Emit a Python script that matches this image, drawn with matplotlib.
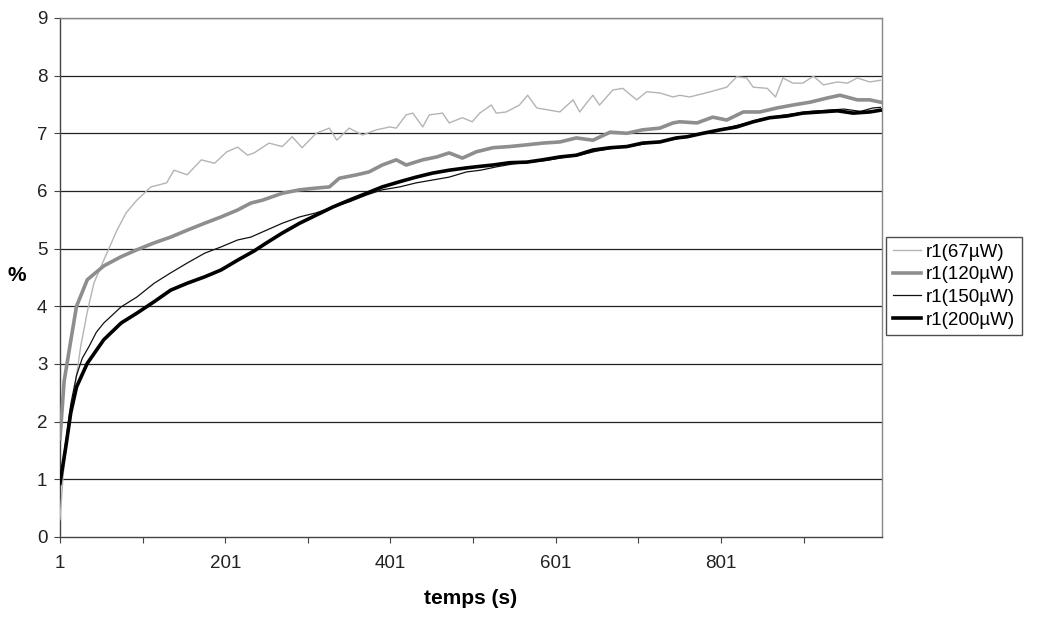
import matplotlib
matplotlib.use("Agg")
import matplotlib.pyplot as plt

plt.rcParams["font.family"] = ["Liberation Sans", "DejaVu Sans"]

# r1(67µW)
t67 = [1, 5, 10, 18, 26, 34, 42, 54, 70, 81,
       94, 111, 130, 139, 155, 172, 188, 203, 216, 228,
       236, 254, 270, 282, 294, 311, 327, 336, 351, 367,
       384, 400, 408, 420, 428, 440, 448, 464, 472, 488,
       500, 509, 523, 529, 541, 557, 567, 578, 594, 606,
       622, 630, 638, 646, 654, 670, 682, 699, 711, 727,
       743, 751, 763, 788, 808, 820, 832, 840, 857, 867,
       876, 888, 900, 913, 925, 942, 954, 966, 981, 994]
v67 = [0.3, 1.1, 1.75, 2.5, 3.3, 3.9, 4.4, 4.8, 5.32, 5.62,
       5.84, 6.07, 6.14, 6.36, 6.28, 6.54, 6.48, 6.68, 6.76, 6.62,
       6.66, 6.83, 6.77, 6.94, 6.75, 7.0, 7.09, 6.88, 7.09, 6.97,
       7.06, 7.11, 7.09, 7.32, 7.35, 7.11, 7.32, 7.35, 7.18, 7.27,
       7.2, 7.35, 7.49, 7.35, 7.37, 7.49, 7.66, 7.44, 7.4, 7.37,
       7.58, 7.37, 7.52, 7.66, 7.49, 7.75, 7.78, 7.58, 7.72, 7.70,
       7.63, 7.66, 7.63, 7.72, 7.80, 7.98, 7.96, 7.80, 7.78, 7.63,
       7.96, 7.87, 7.87, 7.99, 7.84, 7.89, 7.87, 7.96, 7.89, 7.92]

# r1(120µW)
t120 = [1, 6, 14, 21, 34, 54, 75, 94, 115, 135,
        155, 176, 196, 216, 232, 246, 270, 291, 311, 327,
        339, 360, 375, 391, 408, 420, 440, 457, 472, 488,
        505, 525, 545, 566, 585, 606, 626, 646, 667, 687,
        706, 727, 743, 751, 772, 791, 808, 828, 848, 869,
        888, 909, 929, 945, 966, 981, 994]
v120 = [1.7, 2.7, 3.4, 4.0, 4.46, 4.7, 4.86, 4.98, 5.1, 5.2,
        5.32, 5.44, 5.55, 5.67, 5.79, 5.84, 5.96, 6.02, 6.05, 6.07,
        6.22, 6.28, 6.33, 6.45, 6.54, 6.45, 6.54, 6.59, 6.66, 6.57,
        6.68, 6.75, 6.77, 6.8, 6.83, 6.85, 6.92, 6.88, 7.02, 7.0,
        7.06, 7.09, 7.18, 7.2, 7.18, 7.28, 7.23, 7.37, 7.37, 7.44,
        7.49, 7.54, 7.61, 7.66, 7.58, 7.58, 7.54]

# r1(150µW)
t150 = [1, 8, 14, 21, 28, 36, 45, 54, 75, 94,
        115, 135, 155, 176, 196, 216, 232, 251, 270, 291,
        311, 331, 351, 372, 391, 412, 432, 452, 472, 493,
        510, 530, 550, 570, 590, 610, 630, 650, 670, 690,
        710, 730, 750, 770, 790, 810, 830, 850, 870, 890,
        910, 930, 950, 970, 985, 994]
v150 = [0.9, 1.65, 2.3, 2.8, 3.1, 3.3, 3.55, 3.71, 3.99, 4.16,
        4.40, 4.58, 4.75, 4.92, 5.03, 5.15, 5.2, 5.32, 5.44, 5.55,
        5.62, 5.72, 5.81, 5.93, 6.02, 6.07, 6.14, 6.19, 6.24, 6.33,
        6.36, 6.42, 6.47, 6.50, 6.53, 6.58, 6.62, 6.69, 6.74, 6.77,
        6.82, 6.86, 6.91, 6.97, 7.04, 7.10, 7.17, 7.25, 7.30, 7.34,
        7.38, 7.40, 7.42, 7.38, 7.44, 7.45]

# r1(200µW)
t200 = [1, 8, 14, 21, 34, 54, 75, 94, 115, 135,
        155, 176, 196, 216, 236, 251, 270, 291, 311, 331,
        351, 372, 391, 412, 432, 452, 472, 493, 505, 525,
        545, 566, 585, 606, 626, 646, 667, 687, 706, 727,
        747, 760, 779, 800, 820, 840, 860, 881, 900, 921,
        942, 961, 981, 994]
v200 = [0.93, 1.56, 2.15, 2.6, 3.01, 3.42, 3.71, 3.88, 4.08, 4.28,
        4.40, 4.51, 4.63, 4.8, 4.96, 5.10, 5.27, 5.44, 5.58, 5.72,
        5.84, 5.96, 6.07, 6.16, 6.24, 6.31, 6.36, 6.40, 6.42, 6.45,
        6.49, 6.5, 6.54, 6.59, 6.62, 6.71, 6.75, 6.77, 6.83, 6.85,
        6.92, 6.94, 7.0, 7.06, 7.11, 7.2, 7.27, 7.3, 7.35, 7.37,
        7.39, 7.35, 7.37, 7.4]

x_ticks = [1, 101, 201, 301, 401, 501, 601, 701, 801, 901]
x_labels = ["1", "", "201", "", "401", "", "601", "", "801", ""]
y_ticks = list(range(0, 10))

fig = plt.figure(figsize=(10.38, 6.20), dpi=100)
ax = fig.add_axes([0.0578, 0.134, 0.792, 0.837])

# lignes horizontales (grille Excel)
for y in y_ticks[1:]:
    ax.axhline(y, color="#222222", linewidth=0.9, zorder=1)

ax.plot(t67, v67, color="#b4b4b4", linewidth=1.0, label="r1(67µW)", zorder=3)
ax.plot(t120, v120, color="#8e8e8e", linewidth=2.6, label="r1(120µW)", zorder=3)
ax.plot(t150, v150, color="#111111", linewidth=0.9, label="r1(150µW)", zorder=4)
ax.plot(t200, v200, color="#000000", linewidth=2.6, label="r1(200µW)", zorder=5)

ax.set_xlim(1, 996)
ax.set_ylim(0, 9)
ax.set_xticks(x_ticks)
ax.set_xticklabels(x_labels)
ax.set_yticks(y_ticks)
ax.tick_params(axis="both", direction="out", length=4, width=0.8,
               color="#444444", labelsize=13.5, labelcolor="#222222")
ax.tick_params(axis="x", pad=9)
ax.tick_params(axis="y", pad=5)

for side in ["top", "right"]:
    ax.spines[side].set_color("#888888")
    ax.spines[side].set_linewidth(1.0)
for side in ["left", "bottom"]:
    ax.spines[side].set_color("#444444")
    ax.spines[side].set_linewidth(1.0)

ax.set_xlabel("temps (s)", fontsize=15, fontweight="bold", labelpad=12)
fig.text(0.016, 0.555, "%", fontsize=15, fontweight="bold", ha="center", va="center")

leg = fig.legend(loc="upper left", bbox_to_anchor=(0.854, 0.618),
                 fontsize=13.5, frameon=True, fancybox=False,
                 handlelength=1.5, handletextpad=0.25, borderpad=0.35,
                 labelspacing=0.3, borderaxespad=0)
leg.get_frame().set_edgecolor("#222222")
leg.get_frame().set_linewidth(1.0)

fig.savefig("out.png", dpi=100)
